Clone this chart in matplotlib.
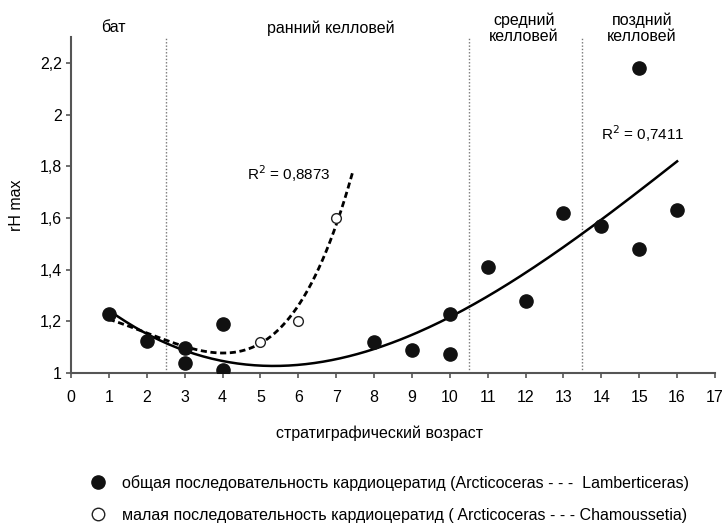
import numpy as np
import matplotlib
matplotlib.use("Agg")
import matplotlib.pyplot as plt
from matplotlib.lines import Line2D

plt.rcParams["font.family"] = ["Liberation Sans", "DejaVu Sans"]

# общая последовательность (закрашенные точки)
age_all = [1, 2, 3, 3, 4, 4, 8, 9, 10, 10, 11, 12, 13, 14, 15, 15, 16]
rh_all = [1.23, 1.124, 1.095, 1.04, 1.19, 1.01, 1.12, 1.09, 1.073, 1.23,
          1.41, 1.28, 1.62, 1.57, 2.18, 1.48, 1.63]

# малая последовательность (открытые точки)
age_small = [5, 6, 7]
rh_small = [1.12, 1.20, 1.60]

# линии тренда, снятые по точкам
trend_all_x = [1, 2, 3, 4, 5.33, 6, 7, 8, 9, 10, 11, 12, 13, 14, 15, 16]
trend_all_y = [1.235, 1.15, 1.10, 1.058, 1.02, 1.025, 1.054, 1.085, 1.15,
               1.208, 1.30, 1.395, 1.494, 1.59, 1.705, 1.816]
trend_small_x = [1, 2, 3, 4, 5, 5.5, 6, 6.5, 7, 7.45]
trend_small_y = [1.21, 1.15, 1.10, 1.09, 1.12, 1.16, 1.24, 1.40, 1.60, 1.77]

stage_bounds = [2.5, 10.5, 13.5]
stage_names = ["бат", "ранний келловей", "средний\nкелловей", "поздний\nкелловей"]
stage_pos = [1.13, 6.86, 11.96, 15.07]

r2_all = "0,7411"
r2_small = "0,8873"

W, H = 722, 524
fig = plt.figure(figsize=(W / 100, H / 100), dpi=100)
ax = fig.add_axes([71 / W, 1 - 373 / H, 644 / W, 336 / H])

for b in stage_bounds:
    ax.plot([b, b], [1, 2.3], ls=(0, (1, 1.4)), color="#777777", lw=1.0, zorder=1)

# полиномиальные тренды
c_all = np.polyfit(trend_all_x, trend_all_y, 3)
xs = np.linspace(trend_all_x[0], trend_all_x[-1], 200)
ax.plot(xs, np.polyval(c_all, xs), color="black", lw=1.8, zorder=2)

c_small = np.polyfit(trend_small_x, trend_small_y, 4)
xs2 = np.linspace(trend_small_x[0], trend_small_x[-1], 200)
ax.plot(xs2, np.polyval(c_small, xs2), color="black", lw=2.0,
        ls=(0, (2.2, 1.3)), zorder=2)

ax.plot(age_all, rh_all, "o", ms=9.5, color="#111111", zorder=3)
ax.plot(age_small, rh_small, "o", ms=7, mfc="white", mec="#222222", mew=1.0, zorder=3)

ax.text(4.65, 1.745, f"R$^2$ = {r2_small}", fontsize=11)
ax.text(14.0, 1.90, f"R$^2$ = {r2_all}", fontsize=11)

for name, pos in zip(stage_names, stage_pos):
    ax.text(pos, 2.335, name, ha="center", va="center", fontsize=11.5, linespacing=1.1)

ax.set_xlim(0, 17)
ax.set_ylim(1, 2.3)
ax.set_xticks(range(0, 18))
ax.set_yticks([1, 1.2, 1.4, 1.6, 1.8, 2, 2.2])
ax.set_yticklabels(["1", "1,2", "1,4", "1,6", "1,8", "2", "2,2"])
for s in ["top", "right"]:
    ax.spines[s].set_visible(False)
for s in ["left", "bottom"]:
    ax.spines[s].set_color("#555555")
    ax.spines[s].set_linewidth(1.5)
ax.tick_params(direction="out", length=3.6, width=1.2, color="#555555", labelsize=11.5)
ax.tick_params(axis="x", pad=9)
ax.tick_params(axis="y", pad=3)

ax.set_ylabel("rH max", fontsize=11.5, va="center", ha="center")
ax.yaxis.set_label_coords((17 - 71) / 644, 0.5)
ax.set_xlabel("стратиграфический возраст", fontsize=11.5, va="center", ha="center")
ax.xaxis.set_label_coords((380 - 71) / 644, (373 - 433) / 336)

handles = [
    Line2D([], [], ls="none", marker="o", ms=9.5, color="#111111"),
    Line2D([], [], ls="none", marker="o", ms=9, mfc="white", mec="#222222", mew=1.0),
]
labels = [
    "общая последовательность кардиоцератид (Arcticoceras - - -  Lamberticeras)",
    "малая последовательность кардиоцератид ( Arcticoceras - - - Chamoussetia)",
]
fig.legend(handles, labels, loc="center left", bbox_to_anchor=(90 / W, 1 - 499 / H),
           frameon=False, fontsize=11.5, borderpad=0, borderaxespad=0,
           handlelength=1.0, handletextpad=1.0, labelspacing=1.05)

fig.savefig("out.png", dpi=100)
